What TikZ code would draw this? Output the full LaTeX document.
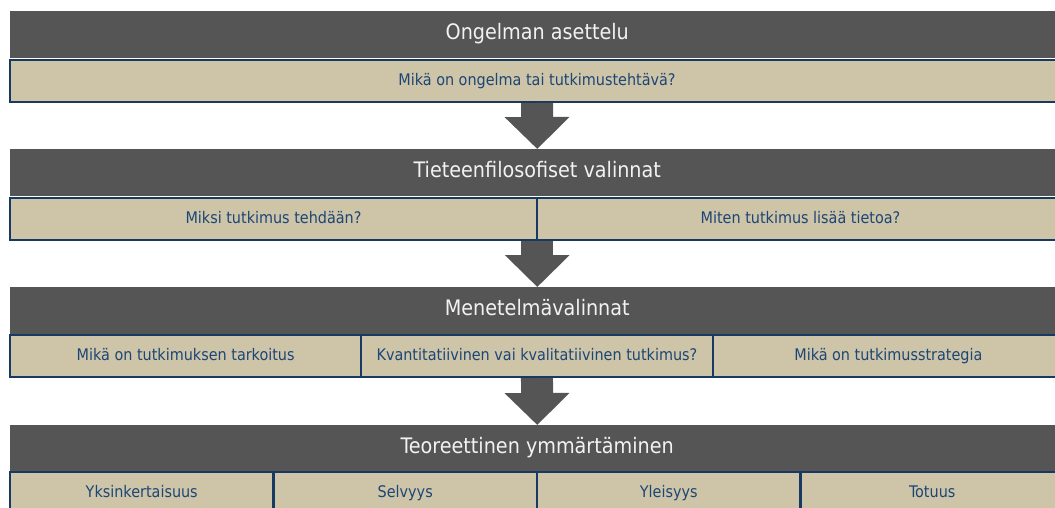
\documentclass[tikz,border=0pt]{standalone}
\usepackage{fontspec}
\setmainfont{DejaVu Sans Condensed}
\usepackage{tikz}
\usetikzlibrary{positioning, arrows.meta}

\definecolor{hdrgray}{RGB}{85,85,85}
\definecolor{hdrtext}{RGB}{242,242,242}
\definecolor{cellbeige}{RGB}{206,196,168}
\definecolor{cellblue}{RGB}{23,58,98}
\definecolor{celltext}{RGB}{28,70,118}

\tikzset{
    hdr/.style={fill=hdrgray, text=hdrtext, anchor=north west, inner sep=0pt,
        minimum width=790.5pt, minimum height=35.25pt, text height=0.73em, text depth=0pt,
        font=\fontsize{16}{18}\selectfont},
    cell/.style={fill=cellbeige, draw=cellblue, line width=1.5pt, text=celltext,
        anchor=north west, inner sep=0pt, minimum height=31.5pt,
        text height=0.73em, text depth=0pt, font=\fontsize{12}{14}\selectfont},
    flow/.style={draw=hdrgray, line width=24pt, -{Triangle[width=47.25pt,length=24pt]}}
}

\begin{document}
\begin{tikzpicture}[x=0.75pt, y=-0.75pt]
    \useasboundingbox (0,0) rectangle (1055,507);

    % Ongelman asettelu
    \node[hdr] (hdr1) at (10,11) {Ongelman asettelu};
    \node[cell, minimum width=790.5pt] (c11) at (9,59) {Mikä on ongelma tai tutkimustehtävä?};

    % Tieteenfilosofiset valinnat
    \node[hdr] (hdr2) at (10,149) {Tieteenfilosofiset valinnat};
    \node[cell, minimum width=395.25pt] (c21) at (9,197) {Miksi tutkimus tehdään?};
    \node[cell, minimum width=395.25pt] (c22) at (536,197) {Miten tutkimus lisää tietoa?};

    % Menetelmavalinnat
    \node[hdr] (hdr3) at (10,287) {Menetelmävalinnat};
    \node[cell, minimum width=263.5pt] (c31) at (9,334) {Mikä on tutkimuksen tarkoitus};
    \node[cell, minimum width=263.5pt] (c32) at (360.3,334) {Kvantitatiivinen vai kvalitatiivinen tutkimus?};
    \node[cell, minimum width=263.5pt] (c33) at (711.7,334) {Mikä on tutkimusstrategia};

    % Teoreettinen ymmartaminen
    \node[hdr] (hdr4) at (10,425) {Teoreettinen ymmärtäminen};
    \foreach \lab [count=\i] in {Yksinkertaisuus, Selvyys, Yleisyys, Totuus}
        \node[cell, minimum width=197.6pt] (c4\i) at ({9+263.5*(\i-1)},471) {\lab};

    % nuolet
    \draw[flow] (c11.south) -- (hdr2.north);
    \draw[flow] (hdr3.north |- c21.south) -- (hdr3.north);
    \draw[flow] (c32.south) -- (hdr4.north);
\end{tikzpicture}
\end{document}
